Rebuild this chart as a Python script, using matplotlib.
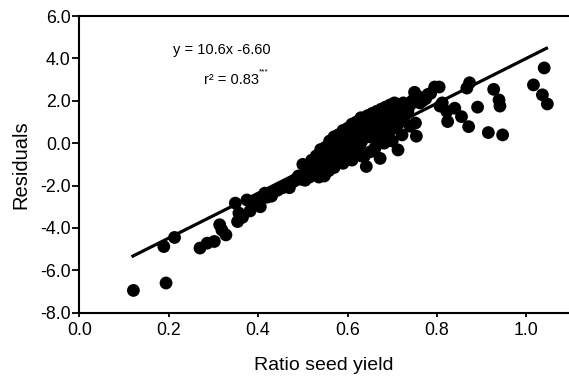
import matplotlib
matplotlib.use("Agg")
import matplotlib.pyplot as plt
import numpy as np

plt.rcParams['font.family'] = ['Liberation Sans', 'DejaVu Sans']

# Scatter data (ratio seed yield, residuals)
ratio = [
    0.121, 0.194, 0.189, 0.213, 0.270, 0.286, 0.302, 0.314, 0.319, 0.328,
    0.349, 0.354, 0.357, 0.365, 0.375, 0.382, 0.390, 0.400, 0.405, 0.415,
    0.430, 0.445, 0.455, 0.470, 0.480, 0.490, 0.495, 0.500, 0.505, 0.510,
    0.515, 0.520, 0.520, 0.525, 0.530, 0.530, 0.535, 0.540, 0.540, 0.545,
    0.548, 0.550, 0.552, 0.555, 0.558, 0.560, 0.562, 0.565, 0.568, 0.570,
    0.572, 0.575, 0.578, 0.580, 0.582, 0.585, 0.588, 0.590, 0.592, 0.595,
    0.598, 0.600, 0.602, 0.605, 0.608, 0.610, 0.612, 0.615, 0.618, 0.620,
    0.622, 0.625, 0.628, 0.630, 0.632, 0.635, 0.638, 0.640, 0.642, 0.645,
    0.648, 0.650, 0.652, 0.655, 0.658, 0.660, 0.662, 0.665, 0.668, 0.670,
    0.673, 0.675, 0.678, 0.680, 0.682, 0.685, 0.688, 0.690, 0.692, 0.695,
    0.698, 0.700, 0.702, 0.705, 0.708, 0.710, 0.713, 0.715, 0.718, 0.720,
    0.722, 0.725, 0.728, 0.730, 0.735, 0.740, 0.745, 0.750, 0.752, 0.754,
    0.758, 0.762, 0.768, 0.775, 0.780, 0.786, 0.795, 0.805, 0.807, 0.812,
    0.822, 0.824, 0.840, 0.855, 0.867, 0.871, 0.873, 0.891, 0.915, 0.927,
    0.939, 0.941, 0.947, 1.016, 1.036, 1.040, 1.047,
    0.505, 0.515, 0.530, 0.545, 0.560, 0.575, 0.590, 0.605, 0.620, 0.635,
    0.650, 0.665, 0.680, 0.695, 0.710, 0.470, 0.485, 0.460, 0.440, 0.420,
    0.536, 0.550, 0.570, 0.590, 0.610, 0.630, 0.600, 0.660, 0.700, 0.740,
]
residuals = [
    -6.95, -6.60, -4.88, -4.45, -4.95, -4.72, -4.64, -3.85, -4.10, -4.33,
    -2.83, -3.70, -3.30, -3.50, -2.68, -3.20, -2.90, -2.70, -3.00, -2.36,
    -2.50, -2.20, -2.10, -1.95, -1.80, -1.55, -1.70, -1.00, -1.40, -1.20,
    -1.60, -0.80, -1.30, -1.10, -0.60, -1.50, -0.90, -0.30, -1.20, -0.70,
    -1.55, -0.20, -1.00, -0.50, -1.30, 0.10, -0.80, -0.30, -1.10, 0.30,
    -0.60, 0.00, -0.90, 0.40, -0.40, 0.20, -0.70, 0.60, -0.20, 0.30,
    -0.50, 0.70, 0.00, 0.50, -0.55, 0.90, 0.20, 0.60, -0.30, 1.00,
    0.40, 0.80, -0.10, 1.20, 0.10, 0.60, -0.60, 0.90, -1.10, 1.30,
    0.30, 1.00, -0.40, 1.40, 0.50, 0.80, -0.20, 1.50, 0.20, 1.10,
    -0.72, 1.60, 0.60, 1.30, 0.00, 1.70, 0.90, 1.40, 0.30, 1.80,
    1.10, 1.60, 0.70, 1.90, 1.20, 1.50, -0.32, 1.80, 1.00, 1.60,
    0.39, 1.90, 1.30, 1.70, 1.50, 1.80, 2.00, 2.40, 0.95, 0.33,
    2.20, 1.90, 2.00, 2.10, 2.30, 2.35, 2.65, 2.65, 1.75, 1.90,
    1.50, 1.02, 1.65, 1.25, 2.60, 0.78, 2.85, 1.70, 0.50, 2.54,
    2.04, 1.75, 0.39, 2.75, 2.28, 3.55, 1.85,
    -1.75, -1.45, -1.25, -1.05, -0.85, -0.45, -0.25, 0.05, 0.10, 0.30,
    0.60, 0.70, 0.90, 1.00, 0.80, -2.10, -1.70, -2.05, -2.25, -2.55,
    -1.60, -1.40, -1.15, -0.95, -0.80, -0.60, -0.75, -0.30, 0.10, 0.80,
]

# Regression line  y = 10.6x - 6.60
slope = 10.6
intercept = -6.60
fit_x = [0.12, 1.045]

fig = plt.figure(figsize=(5.69, 3.76), dpi=100)
ax = fig.add_axes([0.1394, 0.1684, 0.8606, 0.789])

ax.scatter(ratio, residuals, s=85, color='black', edgecolors='none', zorder=3)
fx = np.array(fit_x)
ax.plot(fx, slope * fx + intercept, color='black', linewidth=2.3, zorder=4)

ax.set_xlim(0, 1.0955)
ax.set_ylim(-8, 6)
ax.set_xticks([0.0, 0.2, 0.4, 0.6, 0.8, 1.0])
ax.set_xticklabels(['0.0', '0.2', '0.4', '0.6', '0.8', '1.0'])
ax.set_yticks([-8, -6, -4, -2, 0, 2, 4, 6])
ax.set_yticklabels(['-8.0', '-6.0', '-4.0', '-2.0', '0.0', '2.0', '4.0', '6.0'])

for s in ['left', 'bottom', 'top']:
    ax.spines[s].set_linewidth(1.5)
ax.spines['right'].set_visible(False)
ax.tick_params(axis='y', direction='out', length=5, width=1.3, labelsize=12.8, pad=1.2)
ax.tick_params(axis='x', direction='out', length=3, width=1.3, labelsize=12.8, pad=3.5)

ax.set_xlabel('Ratio seed yield', fontsize=14, labelpad=13)
ax.set_ylabel('Residuals', fontsize=14.5, labelpad=7)

ax.text(0.318, 4.40, 'y = 10.6x -6.60', fontsize=10.5, ha='center', va='center')
t = ax.text(0.278, 2.98, 'r² = 0.83', fontsize=10.5, ha='left', va='center')
ax.annotate('***', xy=(1.0, 0.82), xycoords=t, fontsize=6, ha='left', va='bottom')

fig.savefig('out.png', dpi=100)
